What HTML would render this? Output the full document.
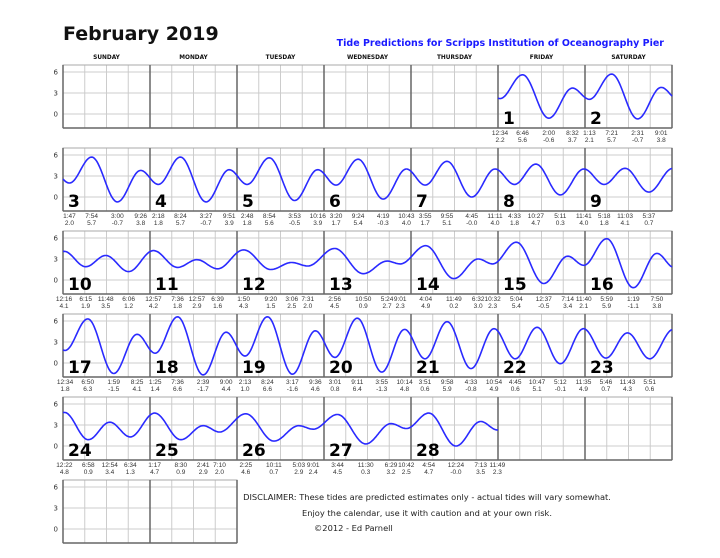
<!DOCTYPE html>
<html><head><meta charset="utf-8"><style>
body{margin:0;background:#fff}
svg{display:block}
text{font-family:"DejaVu Sans","Liberation Sans",sans-serif}
.sm{font-family:"Liberation Sans",sans-serif}
</style></head><body>
<svg id="s" width="720" height="558" xmlns="http://www.w3.org/2000/svg">
<text x="63" y="40" font-size="19" font-weight="bold" fill="#111">February 2019</text>
<text x="664" y="46" font-size="9.5" font-weight="bold" fill="#1a1aff" text-anchor="end">Tide Predictions for Scripps Institution of Oceanography Pier</text>
<text x="427" y="500" font-size="8.3" fill="#222" text-anchor="middle">DISCLAIMER: These tides are predicted estimates only - actual tides will vary somewhat.</text>
<text x="427" y="516" font-size="8.3" fill="#222" text-anchor="middle">Enjoy the calendar, use it with caution and at your own risk.</text>
<text x="314" y="531" font-size="8.3" fill="#222">©2012 - Ed Parnell</text>
</svg>
<script>
const NS="http://www.w3.org/2000/svg",S=document.getElementById('s');
function el(t,a,txt){const e=document.createElementNS(NS,t);for(const k in a)e.setAttribute(k,a[k]);if(txt!==undefined)e.textContent=txt;S.appendChild(e);return e;}
const X0=63,CW=87,H=63,tops=[65,148,231,314,397,480];
const days=["SUNDAY","MONDAY","TUESDAY","WEDNESDAY","THURSDAY","FRIDAY","SATURDAY"];
days.forEach((d,i)=>el('text',{x:X0+CW*i+CW/2,y:59,'font-size':5.8,'font-weight':'bold','text-anchor':'middle',fill:'#111'},d));
function vy(top,v){return top+(7-v)*7;}
function drawRow(r,ncol){
 const top=tops[r],w=CW*ncol;
 for(let k=1;k<ncol*4;k++){if(k%4)el('line',{x1:X0+k*CW/4,x2:X0+k*CW/4,y1:top,y2:top+H,stroke:'#ccc','stroke-width':1});}
 [6,3,0].forEach(v=>{el('line',{x1:X0,x2:X0+w,y1:vy(top,v),y2:vy(top,v),stroke:'#ccc','stroke-width':1});
   el('text',{x:58,y:vy(top,v)+2.5,'font-size':7,'text-anchor':'end',fill:'#333'},v);});
 el('rect',{x:X0,y:top,width:w,height:H,fill:'none',stroke:'#aaa','stroke-width':1});
 for(let k=1;k<ncol;k++)el('line',{x1:X0+k*CW,x2:X0+k*CW,y1:top,y2:top+H,stroke:'#666','stroke-width':1.5});
 el('line',{x1:X0,x2:X0+w,y1:top+H,y2:top+H,stroke:'#666','stroke-width':1.5});
 el('line',{x1:X0,x2:X0,y1:top,y2:top+H,stroke:'#666','stroke-width':1.5});
 el('line',{x1:X0+w,x2:X0+w,y1:top,y2:top+H,stroke:'#666','stroke-width':1.5});
}
for(let r=0;r<5;r++)drawRow(r,7);drawRow(5,2);
const D={
1:[["12:34",0.567,2.2],["6:46",6.77,5.6],["2:00",14,-0.6],["8:32",20.53,3.7]],
2:[["1:13",1.22,2.1],["7:21",7.35,5.7],["2:31",14.52,-0.7],["9:01",21.02,3.8]],
3:[["1:47",1.78,2.0],["7:54",7.9,5.7],["3:00",15,-0.7],["9:26",21.43,3.8]],
4:[["2:18",2.3,1.8],["8:24",8.4,5.7],["3:27",15.45,-0.7],["9:51",21.85,3.9]],
5:[["2:48",2.8,1.8],["8:54",8.9,5.6],["3:53",15.88,-0.5],["10:16",22.27,3.9]],
6:[["3:20",3.33,1.7],["9:24",9.4,5.4],["4:19",16.32,-0.3],["10:43",22.72,4.0]],
7:[["3:55",3.92,1.7],["9:55",9.92,5.1],["4:45",16.75,"-0.0"],["11:11",23.18,4.0]],
8:[["4:33",4.55,1.8],["10:27",10.45,4.7],["5:11",17.18,0.3],["11:41",23.68,4.0]],
9:[["5:18",5.3,1.8],["11:03",11.05,4.1],["5:37",17.62,0.7]],
10:[["12:16",0.27,4.1],["6:15",6.25,1.9],["11:48",11.8,3.5],["6:06",18.1,1.2]],
11:[["12:57",0.95,4.2],["7:36",7.6,1.8],["12:57",12.95,2.9],["6:39",18.65,1.6]],
12:[["1:50",1.83,4.3],["9:20",9.33,1.5],["3:06",15.1,2.5],["7:31",19.52,2.0]],
13:[["2:56",2.93,4.5],["10:50",10.83,0.9],["5:24",17.4,2.7],["9:01",21.02,2.3]],
14:[["4:04",4.07,4.9],["11:49",11.82,0.2],["6:32",18.53,3.0],["10:32",22.53,2.3]],
15:[["5:04",5.07,5.4],["12:37",12.62,-0.5],["7:14",19.23,3.4],["11:40",23.67,2.1]],
16:[["5:59",5.98,5.9],["1:19",13.32,-1.1],["7:50",19.83,3.8]],
17:[["12:34",0.57,1.8],["6:50",6.83,6.3],["1:59",13.98,-1.5],["8:25",20.42,4.1]],
18:[["1:25",1.42,1.4],["7:36",7.6,6.6],["2:39",14.65,-1.7],["9:00",21,4.4]],
19:[["2:13",2.22,1.0],["8:24",8.4,6.6],["3:17",15.28,-1.6],["9:36",21.6,4.6]],
20:[["3:01",3.02,0.8],["9:11",9.18,6.4],["3:55",15.92,-1.3],["10:14",22.23,4.8]],
21:[["3:51",3.85,0.6],["9:58",9.97,5.9],["4:33",16.55,-0.8],["10:54",22.9,4.9]],
22:[["4:45",4.75,0.6],["10:47",10.78,5.1],["5:12",17.2,-0.1],["11:35",23.58,4.9]],
23:[["5:46",5.77,0.7],["11:43",11.72,4.3],["5:51",17.85,0.6]],
24:[["12:22",0.37,4.8],["6:58",6.97,0.9],["12:54",12.9,3.4],["6:34",18.57,1.3]],
25:[["1:17",1.28,4.7],["8:30",8.5,0.9],["2:41",14.68,2.9],["7:10",19.17,2.0]],
26:[["2:25",2.42,4.6],["10:11",10.18,0.7],["5:03",17.05,2.9],["9:01",21.02,2.4]],
27:[["3:44",3.73,4.5],["11:30",11.5,0.3],["6:29",18.48,3.2],["10:42",22.7,2.5]],
28:[["4:54",4.9,4.7],["12:24",12.4,"-0.0"],["7:13",19.22,3.5],["11:49",23.82,2.3]]};
const P=[[-4,3.7]];
for(let d=1;d<=28;d++){D[d].forEach(e=>P.push([(d-1)*24+e[1],parseFloat(e[2])]));}
P.push([28*24+5.5,4.9]);
function tide(t){for(let i=0;i<P.length-1;i++){if(t>=P[i][0]&&t<=P[i+1][0]){const f=(t-P[i][0])/(P[i+1][0]-P[i][0]);return P[i][1]+(P[i+1][1]-P[i][1])*(1-Math.cos(Math.PI*f))/2;}}return P[P.length-1][1];}
const rows={};
for(let d=1;d<=28;d++){const idx=d+4,r=Math.floor(idx/7),c=idx%7,top=tops[r],x=X0+c*CW;
 (rows[r]=rows[r]||[]).push([d,c]);
 el('text',{x:x+5,y:top+H-4,'font-size':17,'font-weight':'bold',fill:'#000'},d);
 D[d].forEach(e=>{const tx=x+e[1]*CW/24;
  el('text',{x:tx,y:top+H+7,'font-size':6.5,'text-anchor':'middle',fill:'#333','class':'sm'},e[0]);
  el('text',{x:tx,y:top+H+14,'font-size':6.5,'text-anchor':'middle',fill:'#333','class':'sm'},(typeof e[2]==='string')?e[2]:e[2].toFixed(1));});
}
for(const r in rows){const list=rows[r],top=tops[r];const d0=list[0][0],c0=list[0][1],n=list.length;let pts=[];
 for(let px=0;px<=n*CW;px+=1){const t=(d0-1)*24+px*24/CW;pts.push((X0+c0*CW+px).toFixed(1)+','+vy(top,tide(t)).toFixed(1));}
 el('polyline',{points:pts.join(' '),fill:'none',stroke:'#2a2aff','stroke-width':1.6});}
</script>
</body></html>
